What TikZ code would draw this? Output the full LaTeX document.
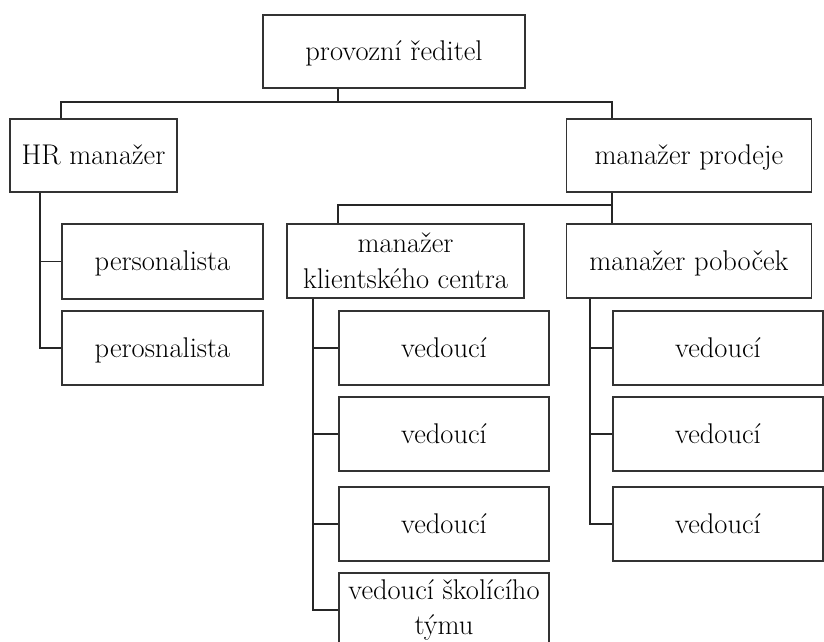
\documentclass[tikz,border=0pt]{standalone}
\usepackage{fontspec}

\begin{document}
\begin{tikzpicture}[x=1pt, y=-1pt, line width=1.4pt,
    box/.style={draw=black!80, inner sep=0pt, align=center, font=\fontsize{28.5}{36}\selectfont},
    single/.style={text height=20pt, text depth=2pt},
    vedbox/.style={box, single, minimum width=210pt, minimum height=74pt},
    link/.style={draw=black!85, line width=1.7pt}]
    \useasboundingbox (0,0) rectangle (824,642);

    \node[box, single, minimum width=262pt, minimum height=73pt] (reditel) at (394,51.5) {provozní ředitel};
    \node[box, single, minimum width=167pt, minimum height=73pt] (hr) at (93.5,155.5) {HR manažer};
    \node[box, single, minimum width=245pt, minimum height=73pt] (prodeje) at (689,155.5) {manažer prodeje};

    \node[box, single, minimum width=201pt, minimum height=75pt] (pers1) at (162.5,261.5) {personalista};
    \node[box, single, minimum width=201pt, minimum height=74pt] (pers2) at (162.5,348) {perosnalista};

    \node[box, minimum width=237pt, minimum height=74pt] (klient) at (405.5,261) {manažer\\klientského centra};
    \node[box, single, minimum width=245pt, minimum height=74pt] (pobocek) at (689,261) {manažer poboček};

    \foreach \y [count=\i] in {348,434,524} {
        \node[vedbox] (vedL\i) at (444,\y) {vedoucí};
        \node[vedbox] (vedR\i) at (718,\y) {vedoucí};
    }
    \node[box, minimum width=210pt, minimum height=74pt, font=\fontsize{28.5}{35}\selectfont] (vedL4) at (444,610) {vedoucí školícího\\týmu};

    % top level
    \draw[link] ([xshift=76pt]reditel.south west) -- ++(0,13) coordinate (j1);
    \draw[link] ([xshift=52pt]hr.north west) |- (j1) -| ([xshift=46.5pt]prodeje.north west);

    % under manazer prodeje
    \draw[link] ([xshift=46.5pt]prodeje.south west) -- ++(0,12) coordinate (j2);
    \draw[link] ([xshift=52pt]klient.north west) |- (j2) -- ([xshift=46.5pt]pobocek.north west);

    % side branches
    \foreach \n in {pers1,pers2}
        \draw[link] ([xshift=31pt]hr.south west) |- (\n.west);
    \foreach \n in {vedL1,vedL2,vedL3,vedL4}
        \draw[link] ([xshift=27pt]klient.south west) |- (\n.west);
    \foreach \n in {vedR1,vedR2,vedR3}
        \draw[link] ([xshift=24.5pt]pobocek.south west) |- (\n.west);
\end{tikzpicture}
\end{document}
